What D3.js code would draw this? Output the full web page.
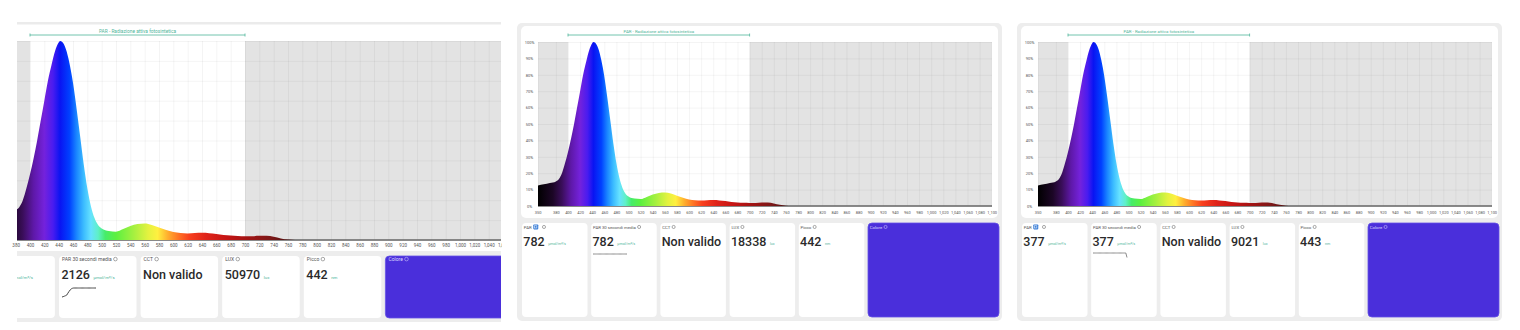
<!DOCTYPE html>
<html>
<head>
<meta charset="utf-8">
<script src="https://cdn.jsdelivr.net/npm/d3@7"></script>
<style>
  html, body { margin: 0; padding: 0; background: #fff; }
  svg { display: block; font-family: Roboto, "Noto Sans", sans-serif; }
</style>
</head>
<body>
<div id="chart"></div>
<script>
// spectrum readings: wavelength (nm) and relative intensity (% of peak)
var wavelengths = [350, 360, 370, 380, 385, 390, 395, 400, 405, 410, 415, 420, 425, 430, 435, 440, 442, 445, 450, 455,
  460, 465, 470, 475, 480, 485, 490, 495, 500, 510, 520, 530, 540, 550, 560, 570, 580, 590, 600, 610,
  620, 630, 640, 650, 660, 670, 680, 690, 700, 710, 720, 730, 740, 750, 760, 770, 800, 900, 1000, 1100];
var intensity = [12.5, 13.2, 14, 15, 16.5, 20, 26, 33, 41, 50, 60, 70, 80, 88, 95, 99.3, 100, 99.5, 96, 89,
  79, 66, 52, 38, 26, 17, 11, 7.5, 5.8, 4.5, 4.2, 5.5, 7, 8, 8.3, 7.6, 6.3, 5, 4, 3.5,
  3.3, 3.5, 3.6, 3.4, 3, 2.5, 2.2, 2, 1.9, 1.9, 2.1, 2.1, 1.6, 0.8, 0.2, 0, 0, 0, 0, 0];

var xTicks = [350, 380, 400, 420, 440, 460, 480, 500, 520, 540, 560, 580, 600, 620, 640, 660, 680, 700, 720, 740,
  760, 780, 800, 820, 840, 860, 880, 900, 920, 940, 960, 980, 1000, 1020, 1040, 1060, 1080, 1100];
var yTicks = [0, 10, 20, 30, 40, 50, 60, 70, 80, 90, 100];
var parBand = [400, 700];

// tiles under the chart
var cardTitles = ["PAR", "PAR 30 secondi media", "CCT", "LUX", "Picco", "Colore"];
var cardUnits = ["μmol/m²/s", "μmol/m²/s", "", "lux", "nm"];
var readingsA = ["2126", "2126", "Non valido", "50970", "442"];
var readingsB = ["782", "782", "Non valido", "18338", "442"];
var readingsC = ["377", "377", "Non valido", "9021", "443"];

// 30 second PAR history (sparkline)
var sparkA = [2050, 2053, 2057, 2061, 2066, 2082, 2097, 2110, 2119, 2124, 2126, 2126, 2126, 2126, 2126,
  2126, 2126, 2126, 2126, 2126, 2126, 2126, 2126, 2126, 2126, 2126, 2126, 2126, 2126, 2126];
var sparkB = [782, 782, 782, 782, 782, 782, 782, 782, 782, 782, 782, 782, 782, 782, 782,
  782, 782, 782, 782, 782, 782, 782, 782, 782, 782, 782, 782, 782, 782, 782];
var sparkC = [782, 782, 782, 782, 782, 782, 782, 782, 782, 782, 782, 782, 782, 782, 782,
  782, 782, 782, 782, 782, 782, 782, 782, 782, 782, 782, 782, 782, 782, 377];

var swatchColour = "#4a2fdb";
var teal = "#4fb59a";

// wavelength -> colour of the fill
var colourStops = [[350, "#000000"], [375, "#1c0626"], [390, "#3a0e5a"], [405, "#5e18a8"], [420, "#7422dc"],
  [432, "#4a1cf0"], [442, "#0a14f2"], [455, "#0040ff"], [465, "#1a86ff"], [475, "#3cbcff"], [485, "#66e2ff"],
  [495, "#5ff0c8"], [505, "#46ec6a"], [520, "#5cf040"], [545, "#a6f040"], [565, "#e4f240"], [578, "#fff040"],
  [592, "#ffb02e"], [607, "#ff7424"], [622, "#f8401e"], [645, "#e0241a"], [675, "#c41414"], [705, "#a01414"],
  [735, "#7e1818"], [765, "#4a1010"], [800, "#333333"]];

var W = 1520, H = 330;
var svg = d3.select("#chart").append("svg").attr("width", W).attr("height", H);
svg.append("rect").attr("width", W).attr("height", H).attr("fill", "#fff");
var defs = svg.append("defs");

var spectrum = wavelengths.map(function(nm, i) { return {nm: nm, v: intensity[i]}; });

function drawPanel(p) {
  var g = svg.append("g");

  if (p.frame) {
    g.append("rect").attr("x", p.frame.x).attr("y", p.frame.y).attr("width", p.frame.w).attr("height", p.frame.h)
      .attr("rx", 5).attr("fill", "#ededed");
    g.append("rect").attr("x", p.card.x).attr("y", p.card.y).attr("width", p.card.w).attr("height", p.card.h)
      .attr("rx", 5).attr("fill", "#fff");
  }
  if (p.strip) {
    g.append("rect").attr("x", p.strip.x).attr("y", p.strip.y).attr("width", p.strip.w).attr("height", p.strip.h)
      .attr("fill", "#ebebeb");
  }

  var x = d3.scaleLinear().domain(parBand).range([p.x400, p.x700]);
  var y = d3.scaleLinear().domain([0, 100]).range([p.plot.bottom, p.plot.top]);
  var pw = p.plot.right - p.plot.left, ph = p.plot.bottom - p.plot.top;

  defs.append("clipPath").attr("id", "plot-" + p.id).append("rect")
    .attr("x", p.plot.left).attr("y", p.plot.top - 2).attr("width", pw).attr("height", ph + 4);
  defs.append("clipPath").attr("id", "lab-" + p.id).append("rect")
    .attr("x", p.labelClip[0]).attr("y", 0).attr("width", p.labelClip[1] - p.labelClip[0]).attr("height", H);

  var grad = defs.append("linearGradient").attr("id", "spec-" + p.id)
    .attr("gradientUnits", "userSpaceOnUse")
    .attr("x1", x(350)).attr("x2", x(800)).attr("y1", 0).attr("y2", 0);
  colourStops.forEach(function(s) {
    grad.append("stop").attr("offset", (s[0] - 350) / 450).attr("stop-color", s[1]);
  });

  var plot = g.append("g").attr("clip-path", "url(#plot-" + p.id + ")");
  // grey outside the PAR band
  plot.append("rect").attr("x", p.plot.left).attr("y", p.plot.top).attr("width", pw).attr("height", ph)
    .attr("fill", "#e3e3e3");
  plot.append("rect").attr("x", x(parBand[0])).attr("y", p.plot.top)
    .attr("width", x(parBand[1]) - x(parBand[0])).attr("height", ph).attr("fill", "#fff");

  // grid
  var gx = plot.append("g").attr("transform", "translate(0," + p.plot.bottom + ")")
    .call(d3.axisBottom(x).tickValues(xTicks).tickSize(-ph).tickFormat(""));
  var gy = plot.append("g").attr("transform", "translate(" + p.plot.left + ",0)")
    .call(d3.axisLeft(y).tickValues(yTicks).tickSize(-pw).tickFormat(""));
  [gx, gy].forEach(function(a) {
    a.select(".domain").remove();
    a.selectAll("line").attr("stroke", "#000").attr("stroke-opacity", 0.055).attr("stroke-width", 0.8);
  });

  plot.append("line").attr("x1", p.plot.left).attr("x2", p.plot.right)
    .attr("y1", y(0)).attr("y2", y(0)).attr("stroke", "#666").attr("stroke-width", 1.4);

  var area = d3.area().x(function(d) { return x(d.nm); }).y0(y(0)).y1(function(d) { return y(d.v); })
    .curve(d3.curveMonotoneX);
  plot.append("path").datum(spectrum).attr("d", area).attr("fill", "url(#spec-" + p.id + ")");

  // PAR bracket
  var bx0 = x(parBand[0]), bx1 = x(parBand[1]);
  g.append("line").attr("x1", bx0).attr("x2", bx1).attr("y1", p.bracketY).attr("y2", p.bracketY)
    .attr("stroke", teal).attr("stroke-width", 0.8);
  [bx0, bx1].forEach(function(bx) {
    g.append("line").attr("x1", bx).attr("x2", bx).attr("y1", p.bracketY - 1.5).attr("y2", p.bracketY + 1.5)
      .attr("stroke", teal).attr("stroke-width", 0.8);
  });
  g.append("text").attr("x", (bx0 + bx1) / 2).attr("y", p.bracketY - 2.2).attr("text-anchor", "middle")
    .attr("font-size", p.bracketSize).attr("fill", teal).text("PAR - Radiazione attiva fotosintetica");

  // axis labels
  var lab = g.append("g").attr("clip-path", "url(#lab-" + p.id + ")");
  var ax = lab.append("g").attr("transform", "translate(0," + p.xLabelY + ")")
    .call(d3.axisBottom(x).tickValues(xTicks).tickSize(0).tickPadding(0).tickFormat(d3.format(",")));
  ax.select(".domain").remove();
  ax.selectAll("text").attr("font-size", p.labelSize).attr("fill", "#555").attr("dy", "0.35em")
    .attr("font-family", "Roboto, sans-serif");
  if (p.yLabelX) {
    var ay = g.append("g").attr("transform", "translate(" + p.yLabelX + ",0)")
      .call(d3.axisLeft(y).tickValues(yTicks).tickSize(0).tickPadding(0).tickFormat(function(d) { return d + "%"; }));
    ay.select(".domain").remove();
    ay.selectAll("text").attr("font-size", p.labelSize).attr("fill", "#555").attr("text-anchor", "middle")
      .attr("font-family", "Roboto, sans-serif");
  }

  drawCards(p);
}

function drawCards(p) {
  var c = p.cards;
  defs.append("clipPath").attr("id", "cards-" + p.id).append("rect")
    .attr("x", c.clip[0]).attr("y", 0).attr("width", c.clip[1] - c.clip[0]).attr("height", H);
  var g = svg.append("g").attr("clip-path", "url(#cards-" + p.id + ")");
  if (c.bg) {
    g.append("rect").attr("x", c.bg.x).attr("y", c.bg.y).attr("width", c.bg.w).attr("height", c.bg.h)
      .attr("fill", "#ededed");
  }
  cardTitles.forEach(function(title, i) {
    var left = c.left + i * c.step;
    var swatch = i === cardTitles.length - 1;
    var right = swatch ? c.lastRight : left + c.width;
    g.append("rect").attr("x", left).attr("y", c.top).attr("width", right - left).attr("height", c.height)
      .attr("rx", 4).attr("fill", swatch ? swatchColour : "#fff")
      .attr("stroke", swatch ? "#6552e6" : "none").attr("stroke-width", 0.8);

    // tile cut off by the screenshot edge: only its unit shows
    var hidden = left + c.pad < c.clip[0] - 10;

    var t = g.append("text").attr("x", left + c.pad).attr("y", c.top + c.titleDy)
      .attr("font-size", c.titleSize).attr("fill", swatch ? "#ddd8ff" : "#555").text(title);
    var tx = left + c.pad + t.node().getComputedTextLength() + 1.6;
    if (hidden) t.remove();
    if (!hidden) {
      if (i === 0 && p.badge) {
        g.append("rect").attr("x", tx).attr("y", c.top + c.titleDy - 4.2).attr("width", 5).attr("height", 5)
          .attr("rx", 0.8).attr("fill", "#3b7fd8");
        g.append("rect").attr("x", tx + 1.4).attr("y", c.top + c.titleDy - 2.8).attr("width", 2.2).attr("height", 2.2)
          .attr("fill", "none").attr("stroke", "#fff").attr("stroke-width", 0.5);
        tx += 9;
      }
      g.append("circle").attr("cx", tx + c.titleSize * 0.4).attr("cy", c.top + c.titleDy - c.titleSize * 0.38)
        .attr("r", c.titleSize * 0.36).attr("fill", "none")
        .attr("stroke", swatch ? "#ddd8ff" : "#555").attr("stroke-width", 0.5);
    }

    if (swatch) return;
    var v = g.append("text").attr("x", left + c.pad - 0.5).attr("y", c.top + c.valueDy)
      .attr("font-size", 12.5).attr("font-weight", 500).attr("fill", "#2a2a2a").text(p.readings[i]);
    var ux = left + c.pad + v.node().getComputedTextLength() + 3;
    if (hidden) v.remove();
    if (cardUnits[i]) {
      g.append("text").attr("x", ux).attr("y", c.top + c.valueDy - 0.5)
        .attr("font-size", c.unitSize).attr("fill", teal).text(cardUnits[i]);
    }
    if (i === 1) {
      var sx = d3.scaleLinear().domain([0, p.spark.length - 1]).range([left + c.pad, left + c.pad + 34]);
      var sy = d3.scaleLinear().domain(d3.extent(p.spark)).range(p.sparkY);
      g.append("path").datum(p.spark)
        .attr("d", d3.line().x(function(d, k) { return sx(k); }).y(function(d) { return sy(d); }))
        .attr("fill", "none").attr("stroke", p.sparkColour).attr("stroke-width", 1);
    }
  });
}

// left screenshot, cropped and a little larger
drawPanel({
  id: "a", strip: {x: 17, y: 22, w: 484, h: 2.5},
  plot: {left: 17, right: 501, top: 41, bottom: 240}, x400: 30, x700: 245,
  bracketY: 35, bracketSize: 4.8, xLabelY: 245.5, labelSize: 4.5, labelClip: [0, 502],
  readings: readingsA, spark: sparkA, sparkY: [297, 288], sparkColour: "#444",
  cards: {clip: [17, 501], bg: {x: 17, y: 251, w: 484, h: 71}, left: -22.6, step: 81.6, width: 77.5,
    lastRight: 506, top: 256, height: 62, pad: 3, titleDy: 5, titleSize: 5, valueDy: 23, unitSize: 4.4}
});

function fullPanel(id, dx, readings, spark, sparkY) {
  drawPanel({
    id: id, frame: {x: 517 + dx, y: 23, w: 485, h: 298}, card: {x: 521 + dx, y: 26, w: 477, h: 192},
    plot: {left: 538 + dx, right: 992 + dx, top: 42, bottom: 206}, x400: 568 + dx, x700: 749.6 + dx,
    bracketY: 35, bracketSize: 4.4, xLabelY: 212.7, labelSize: 4, labelClip: [517 + dx, 1002 + dx], yLabelX: 529.5 + dx,
    badge: true, readings: readings, spark: spark, sparkY: sparkY, sparkColour: "#8a8a8a",
    cards: {clip: [517 + dx, 1002 + dx], left: 522 + dx, step: 69.2, width: 65.5, lastRight: 999 + dx,
      top: 223, height: 94, pad: 1.8, titleDy: 5.6, titleSize: 4.3, valueDy: 22.5, unitSize: 3.7}
  });
}
fullPanel("b", 0, readingsB, sparkB, [256, 252]);
fullPanel("c", 500, readingsC, sparkC, [257.5, 253]);
</script>
</body>
</html>
